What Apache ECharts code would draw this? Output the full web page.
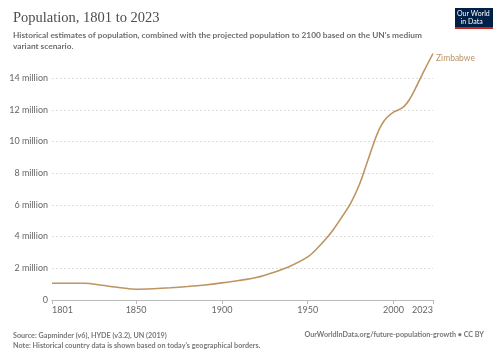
<!DOCTYPE html>
<html>
<head>
<meta charset="utf-8">
<script src="https://cdn.jsdelivr.net/npm/echarts@6/dist/echarts.min.js"></script>
<style>
  html, body { margin: 0; padding: 0; background: #fff; }
  #chart { width: 500px; height: 353px; }
</style>
</head>
<body>
<div id="chart"></div>
<script>
// Zimbabwe population (millions)
const years = [1801, 1820, 1830, 1840, 1850, 1860, 1870, 1880, 1890, 1900, 1910, 1920, 1930, 1940,
  1950, 1955, 1960, 1965, 1970, 1975, 1980, 1985, 1990, 1993, 1996, 2000, 2003, 2006, 2009, 2013, 2018, 2023]
const population = [1.06, 1.06, 0.93, 0.79, 0.68, 0.71, 0.77, 0.85, 0.95, 1.08, 1.23, 1.42, 1.74, 2.15,
  2.72, 3.2, 3.78, 4.45, 5.25, 6.1, 7.25, 8.8, 10.35, 11.05, 11.5, 11.85, 12.0, 12.2, 12.6, 13.4, 14.5, 15.55]
const xTicks = [1801, 1850, 1900, 1950, 2000, 2023]
const countryName = 'Zimbabwe'

const LINE_COLOR = '#be9462'
const FONT = 'Lato, "Liberation Sans", sans-serif'

const chart = echarts.init(document.getElementById('chart'))

chart.setOption({
  animation: false,
  textStyle: { fontFamily: FONT },
  title: [
    {
      text: 'Population, 1801 to 2023',
      left: 8, top: 6,
      textStyle: { fontFamily: '"Liberation Serif", serif', fontSize: 14.5, fontWeight: 'normal', color: '#4d4d4d' }
    },
    {
      text: 'Historical estimates of population, combined with the projected population to 2100 based on the UN\'s medium\nvariant scenario.',
      left: 8, top: 25,
      textStyle: { fontFamily: FONT, fontSize: 8.3, color: '#6e6e6e', lineHeight: 11 }
    },
    {
      text: 'Source: Gapminder (v6), HYDE (v3.2), UN (2019)\nNote: Historical country data is shown based on today\'s geographical borders.',
      left: 8, top: 326,
      textStyle: { fontFamily: FONT, fontSize: 7.2, color: '#777', lineHeight: 10 }
    },
    {
      text: 'OurWorldInData.org/future-population-growth • CC BY',
      right: 11, top: 326,
      textStyle: { fontFamily: FONT, fontSize: 7.2, color: '#777' }
    }
  ],
  graphic: [
    { type: 'rect', left: 455, top: 8, shape: { width: 38, height: 21 }, style: { fill: '#002147' } },
    { type: 'rect', left: 455, top: 27, shape: { width: 38, height: 2 }, style: { fill: '#ce261e' } },
    {
      type: 'text', left: 457, top: 10,
      style: { text: 'Our World\n  in Data', fill: '#fff', fontSize: 7, fontFamily: FONT, lineHeight: 8, align: 'left' }
    }
  ],
  grid: { left: 52, right: 67, top: 53.5, bottom: 53 },
  xAxis: {
    type: 'value',
    min: 1801,
    max: 2023,
    splitLine: { show: false },
    axisLine: { show: true, lineStyle: { color: '#bbb' } },
    axisTick: { show: true, length: 4, lineStyle: { color: '#bbb' }, customValues: xTicks },
    axisLabel: {
      customValues: xTicks,
      color: '#666', fontSize: 9, margin: 6,
      alignMinLabel: 'left', alignMaxLabel: 'right',
      formatter: v => String(v)
    }
  },
  yAxis: {
    type: 'value',
    min: 0,
    max: 'dataMax',
    interval: 2,
    axisLine: { show: false },
    axisTick: { show: false },
    axisLabel: {
      color: '#666', fontSize: 9, margin: 4, showMaxLabel: false,
      formatter: v => v === 0 ? '0' : v + ' million'
    },
    splitLine: { show: true, showMinLine: false, showMaxLine: false, lineStyle: { color: '#ddd', type: [2, 2] } }
  },
  series: [{
    type: 'line',
    data: years.map((y, i) => [y, population[i]]),
    showSymbol: false,
    smooth: 0.3,
    lineStyle: { color: LINE_COLOR, width: 1.6 },
    itemStyle: { color: LINE_COLOR },
    endLabel: { show: true, formatter: countryName, color: '#b89569', fontSize: 8.5, fontFamily: FONT, distance: 3, offset: [0, 5] }
  }]
})
</script>
</body>
</html>
